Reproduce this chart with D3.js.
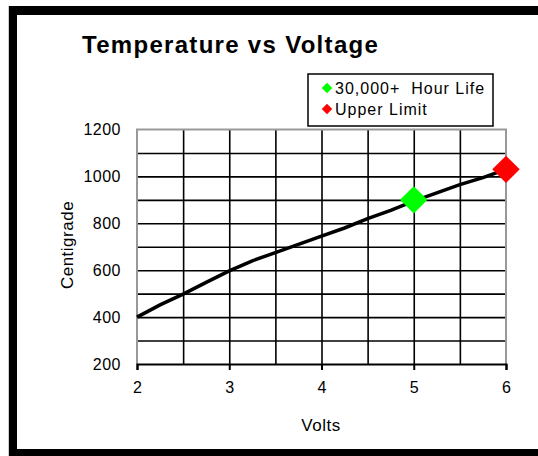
<!DOCTYPE html>
<html>
<head>
<meta charset="utf-8">
<script src="https://cdn.jsdelivr.net/npm/d3@7"></script>
<style>
  body { margin: 0; background: #fff; }
  svg { display: block; }
  text { font-family: "Liberation Sans", Arial, sans-serif; fill: #000; }
</style>
</head>
<body>
<div id="chart"></div>
<script>
// data
var volts = [2, 2.25, 2.5, 2.75, 3, 3.25, 3.5, 3.75, 4, 4.25, 4.5, 4.75, 5, 5.25, 5.5, 5.75, 6];
var temps = [400, 452, 498, 548, 597, 640, 675, 710, 745, 780, 820, 855, 895, 930, 965, 995, 1030];
var markerNames = ["30,000+  Hour Life", "Upper Limit"];
var markerVolts = [5, 6];
var markerTemps = [900, 1030];
var markerColors = ["#00ff00", "#ff0000"];
var yTicks = [200, 400, 600, 800, 1000, 1200];
var xTicks = [2, 3, 4, 5, 6];

var svgWidth = 538;
var svgHeight = 456;
var chartMargin = { top: 129.5, right: 32, bottom: 92, left: 137 };
var chartWidth = svgWidth - chartMargin.left - chartMargin.right;
var chartHeight = svgHeight - chartMargin.top - chartMargin.bottom;

var svg = d3.select("#chart")
    .append("svg")
    .attr("width", svgWidth)
    .attr("height", svgHeight);

// frame
svg.append("rect").attr("x", 9).attr("y", 6).attr("width", 529).attr("height", 9).attr("fill", "#000");
svg.append("rect").attr("x", 9).attr("y", 6).attr("width", 8).attr("height", 450).attr("fill", "#000");
svg.append("rect").attr("x", 9).attr("y", 449).attr("width", 529).attr("height", 7).attr("fill", "#000");
svg.append("rect").attr("x", 8).attr("y", 6).attr("width", 1).attr("height", 450).attr("fill", "#ccc");

// title
svg.append("text")
    .attr("x", 82)
    .attr("y", 53)
    .style("font-size", "24px")
    .style("font-weight", "bold")
    .style("letter-spacing", "1.3px")
    .text("Temperature vs Voltage");

var chartGroup = svg.append("g")
    .attr("transform", `translate(${chartMargin.left}, ${chartMargin.top})`);

var x = d3.scaleLinear().domain([2, 6]).range([0, chartWidth]);
var y = d3.scaleLinear().domain([200, 1200]).range([chartHeight, 0]);

// horizontal grid
chartGroup.append("g")
    .call(d3.axisLeft(y).tickValues(d3.range(300, 1200, 100)).tickSize(-chartWidth).tickFormat(""))
    .call(g => g.select(".domain").remove())
    .call(g => g.selectAll("line").attr("stroke", "#000").attr("stroke-width", 1.6));

// vertical grid
chartGroup.append("g")
    .attr("transform", `translate(0, ${chartHeight})`)
    .call(d3.axisBottom(x).tickValues(d3.range(2.5, 6, 0.5)).tickSize(chartHeight).tickFormat(""))
    .call(g => g.select(".domain").remove())
    .call(g => g.selectAll("line").attr("stroke", "#000").attr("stroke-width", 1.6).attr("y2", -chartHeight));

// gray plot border (top, left, right)
chartGroup.append("path")
    .attr("d", `M0,${chartHeight}V0H${chartWidth}V${chartHeight}`)
    .attr("fill", "none")
    .attr("stroke", "#999")
    .attr("stroke-width", 2);

// x axis
chartGroup.append("g")
    .attr("transform", `translate(0, ${chartHeight})`)
    .call(d3.axisBottom(x).tickValues(xTicks).tickSize(6).tickPadding(12).tickFormat(d3.format("d")))
    .call(g => g.select(".domain").attr("stroke", "#000").attr("stroke-width", 2))
    .call(g => g.selectAll("line").attr("stroke", "#000").attr("stroke-width", 2))
    .call(g => g.selectAll("text").style("font-size", "16px").attr("font-family", null));

// y labels
chartGroup.append("g")
    .call(d3.axisLeft(y).tickValues(yTicks).tickSize(0).tickPadding(16).tickFormat(d3.format("d")))
    .call(g => g.select(".domain").remove())
    .call(g => g.selectAll("text").style("font-size", "16px").style("letter-spacing", "0.5px").attr("font-family", null));

// axis titles
svg.append("text")
    .attr("x", 321)
    .attr("y", 431)
    .attr("text-anchor", "middle")
    .style("font-size", "17px")
    .style("letter-spacing", "0.5px")
    .text("Volts");

svg.append("text")
    .attr("transform", "translate(73, 245) rotate(-90)")
    .attr("text-anchor", "middle")
    .style("font-size", "17px")
    .style("letter-spacing", "0.5px")
    .text("Centigrade");

// series line
var line = d3.line().x((d, i) => x(volts[i])).y((d, i) => y(temps[i]));
chartGroup.append("path")
    .datum(temps)
    .attr("d", line)
    .attr("fill", "none")
    .attr("stroke", "#000")
    .attr("stroke-width", 3.5);

// diamond markers
var diamond = d3.symbol().type(d3.symbolDiamond2).size(480);
chartGroup.selectAll(".marker")
    .data(markerVolts)
    .enter()
    .append("path")
    .attr("class", "marker")
    .attr("d", diamond)
    .attr("transform", (d, i) => `translate(${x(d)}, ${y(markerTemps[i])})`)
    .attr("fill", (d, i) => markerColors[i]);

// legend
var legend = svg.append("g").attr("transform", "translate(308, 74)");
legend.append("rect")
    .attr("width", 185)
    .attr("height", 52)
    .attr("fill", "#fff")
    .attr("stroke", "#000")
    .attr("stroke-width", 1.5);
var items = legend.selectAll(".item")
    .data(markerNames)
    .enter()
    .append("g")
    .attr("class", "item")
    .attr("transform", (d, i) => `translate(19, ${14 + i * 21})`);
items.append("path")
    .attr("d", d3.symbol().type(d3.symbolDiamond2).size(70))
    .attr("fill", (d, i) => markerColors[i]);
items.append("text")
    .attr("x", 8)
    .attr("y", 6)
    .style("font-size", "16px")
    .style("letter-spacing", "1px")
    .style("white-space", "pre")
    .text(d => d);
</script>
</body>
</html>
